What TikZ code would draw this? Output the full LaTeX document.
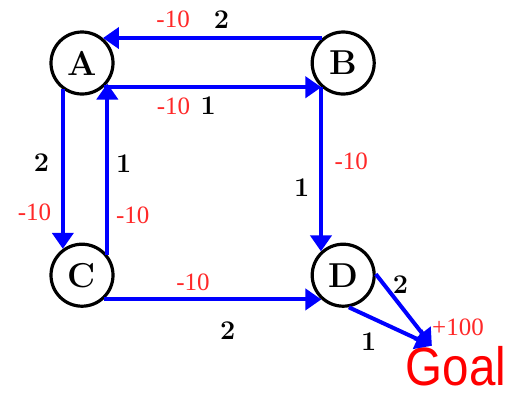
\documentclass[tikz,border=0pt]{standalone}
\usepackage{fontspec}
\newfontfamily\costfont{Liberation Serif}
\newfontfamily\goalfont[FakeStretch=0.88]{Liberation Sans}
\usetikzlibrary{arrows.meta, positioning}
\definecolor{costred}{RGB}{255,40,40}
\begin{document}
\begin{tikzpicture}[
        x=0.5pt, y=-0.5pt,
        node distance=73.5pt and 98pt,
        state/.style={circle, draw=black, line width=1.6pt, minimum size=31pt, inner sep=0pt, font=\LARGE\bfseries},
        goal/.style={inner sep=0pt, text=red, font=\goalfont\fontsize{27}{30}\selectfont},
        cost/.style={text=costred, font=\costfont\fontsize{12.5}{14}\selectfont},
        actlabel/.style={text=black, font=\bfseries\fontsize{13.5}{16}\selectfont},
        line/.style={draw, line width=2pt, blue, -{Triangle[length=8pt, width=10.5pt]}}
    ]
        \useasboundingbox (0,0) rectangle (519,393);

        \node[state] (A) at (82,63) {A};
        \node[state, right=of A] (B) {B};
        \node[state, below=of A] (C) {C};
        \node[state, below=of B] (D) {D};
        \node[goal] (goal) at (456,366) {Goal};
        \node[cost] (bonus) at (458,327) {+100};

        \draw[line] (B.130) -- node[cost, above=1pt, pos=0.68] {-10} node[actlabel, above=0.5pt, pos=0.46] {2} (A.50);
        \draw[line] (A.-48) -- node[cost, below=1pt, pos=0.32] {-10} node[actlabel, below=0.5pt, pos=0.48] {1} (B.-132);
        \draw[line] (A.-126) -- node[actlabel, left=2.5pt, pos=0.46] {2} node[cost, left=1.5pt, pos=0.77] {-10} (C.126);
        \draw[line] (C.39) -- node[actlabel, right, pos=0.53] {1} node[cost, right=0pt, pos=0.23] {-10} (A.-39);
        \draw[line] (B.-133) -- node[actlabel, left=1.5pt, pos=0.61] {1} node[cost, right=2.5pt, pos=0.45] {-10} (D.133);
        \draw[line] (C.-48) -- node[cost, above=0pt, pos=0.41] {-10} node[actlabel, below=7pt, pos=0.57] {2} (D.-132);
        \draw[line] (D.-80) -- node[actlabel, below=4pt, pos=0.24] {1} (goal.140);
        \draw[line] (D.2) -- node[actlabel, right=0pt, pos=0.15] {2} (goal.140);

    \end{tikzpicture}
\end{document}
